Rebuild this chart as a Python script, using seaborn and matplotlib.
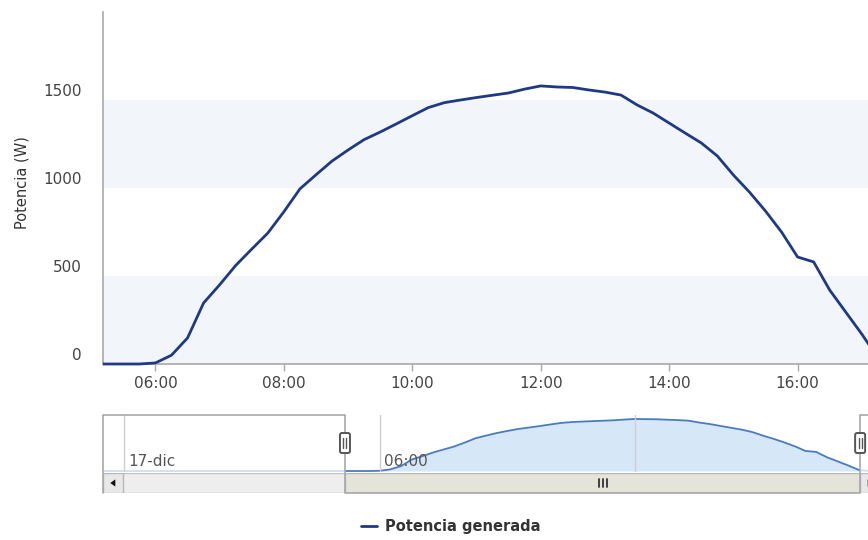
import pandas as pd
import matplotlib
matplotlib.use("Agg")
import matplotlib.pyplot as plt
import matplotlib.dates as mdates
import matplotlib.transforms as mtransforms
from matplotlib.patches import Rectangle, FancyBboxPatch, Polygon
from matplotlib.lines import Line2D
import seaborn as sns

# ---------------------------------------------------------------------------
# Datos: potencia generada el 17-dic, muestras cada 15 minutos
# ---------------------------------------------------------------------------
dia = "2013-12-17"
horas = [
    "05:15", "05:30", "05:45", "06:00", "06:15", "06:30", "06:45",
    "07:00", "07:15", "07:30", "07:45", "08:00", "08:15", "08:30", "08:45",
    "09:00", "09:15", "09:30", "09:45", "10:00", "10:15", "10:30", "10:45",
    "11:00", "11:15", "11:30", "11:45", "12:00", "12:15", "12:30", "12:45",
    "13:00", "13:15", "13:30", "13:45", "14:00", "14:15", "14:30", "14:45",
    "15:00", "15:15", "15:30", "15:45", "16:00", "16:15", "16:30", "16:45",
    "17:00", "17:15", "17:30", "17:45",
]
potencia = [
    0, 0, 0, 6, 50, 148, 347,
    450, 560, 653, 744, 865, 995, 1075, 1153,
    1216, 1275, 1318, 1364, 1411, 1457, 1485, 1500,
    1514, 1527, 1540, 1562, 1580, 1574, 1571, 1557,
    1545, 1528, 1472, 1426, 1369, 1312, 1256, 1182,
    1074, 977, 869, 750, 608, 580, 420, 295,
    170, 35, 0, 0,
]
# Registro nocturno anterior (sin generación)
hora_noche = "2013-12-16 23:30"
potencia_noche = 0

# Ejes y rango visible
yticks = [0, 500, 1000, 1500]
bandas = [(0, 500), (1000, 1500)]
vista_ini = pd.Timestamp(f"{dia} 05:11")
vista_fin = pd.Timestamp(f"{dia} 17:17")
marcas_nav = [f"{dia} 00:00", f"{dia} 06:00", f"{dia} 12:00"]
etiquetas_nav = ["17-dic", "06:00"]
serie = "Potencia generada"

df = pd.DataFrame({
    "hora": pd.to_datetime([hora_noche] + [f"{dia} {h}" for h in horas]),
    "potencia": [potencia_noche] + potencia,
})

# ---------------------------------------------------------------------------
# Estilo
# ---------------------------------------------------------------------------
sns.set_theme(style="white")
plt.rcParams["font.family"] = ["DejaVu Sans"]

AZUL = "#1f3a82"
AZUL_NAV = "#4a7cbd"
RELLENO_NAV = "#d6e7f8"
BANDA = "#f2f6fb"
GRIS_EJE = "#a9a9a9"
TEXTO = "#444444"

W, H = 868, 540
fig = plt.figure(figsize=(W / 100, H / 100), dpi=100)


def caja(x0, y0, x1, y1):
    """Rectángulo en píxeles (origen arriba-izquierda) -> fracción de figura."""
    return [x0 / W, 1 - y1 / H, (x1 - x0) / W, (y1 - y0) / H]


ax = fig.add_axes(caja(103, 12, 880, 364))
ax_nav = fig.add_axes(caja(103, 415, 880, 472))
ax_scr = fig.add_axes(caja(103, 473, 880, 493))

# ---------------------------------------------------------------------------
# Gráfico principal
# ---------------------------------------------------------------------------
for y0, y1 in bandas:
    ax.axhspan(y0, y1, color=BANDA, zorder=0, lw=0)

sns.lineplot(data=df, x="hora", y="potencia", ax=ax, color=AZUL,
             linewidth=2.0, label=serie, zorder=3)
linea = ax.lines[-1]
linea.set_clip_box(mtransforms.TransformedBbox(
    mtransforms.Bbox([[0, -0.03], [1, 1]]), ax.transAxes))

ax.set_xlim(vista_ini, vista_fin)
ax.set_ylim(0, 2000)
ax.set_xlabel("")
ax.set_ylabel("")

ax.xaxis.set_major_locator(mdates.HourLocator(byhour=range(0, 24, 2)))
ax.xaxis.set_major_formatter(mdates.DateFormatter("%H:%M"))
ax.tick_params(axis="x", length=5, width=1, color=GRIS_EJE, labelsize=11,
               labelcolor=TEXTO, pad=4, bottom=True)
ax.set_yticks([])

for lado in ("top", "right"):
    ax.spines[lado].set_visible(False)
for lado in ("left", "bottom"):
    ax.spines[lado].set_color(GRIS_EJE)
    ax.spines[lado].set_linewidth(1.2)

# Etiquetas del eje Y, ligeramente por encima de su valor
trans_y = mtransforms.blended_transform_factory(ax.transAxes, ax.transData) + \
    mtransforms.ScaledTranslation(-0.21, 0.09, fig.dpi_scale_trans)
for v in yticks:
    ax.text(0, v, f"{v}", transform=trans_y, ha="right", va="center",
            fontsize=11, color=TEXTO)

fig.text(22 / W, 1 - 183 / H, "Potencia (W)", rotation=90, ha="center",
         va="center", fontsize=10.5, color="#333333")

# Leyenda
handles, labels = ax.get_legend_handles_labels()
ax.get_legend().remove()
leg = fig.legend(handles, labels, loc="center",
                 bbox_to_anchor=(451 / W, 1 - 527 / H), frameon=False,
                 prop=dict(weight="bold", size=10.5), handlelength=1.05,
                 handletextpad=0.6)
for t in leg.get_texts():
    t.set_color("#333333")

# ---------------------------------------------------------------------------
# Navegador
# ---------------------------------------------------------------------------
ax_nav.fill_between(df["hora"], df["potencia"], 0, color=RELLENO_NAV,
                    lw=0, zorder=2)
sns.lineplot(data=df, x="hora", y="potencia", ax=ax_nav, color=AZUL_NAV,
             linewidth=1.3, legend=False, zorder=4)
ax_nav.set_xlim(df["hora"].min(), df["hora"].max())
ax_nav.set_ylim(-30, 1700)
ax_nav.set_axis_off()

trans_nav = mtransforms.blended_transform_factory(ax_nav.transData,
                                                  ax_nav.transAxes)
for m in marcas_nav:
    ax_nav.axvline(pd.Timestamp(m), color="#cfcfcf", lw=1, zorder=6)
off_lbl = mtransforms.ScaledTranslation(0.045, 0, fig.dpi_scale_trans)
for m, etq in zip(marcas_nav, etiquetas_nav):
    ax_nav.text(pd.Timestamp(m), 0.19, etq, transform=trans_nav + off_lbl,
                ha="left", va="center", fontsize=11, color="#555555",
                zorder=6)

# Zonas fuera de la selección, atenuadas
x_min, x_max = ax_nav.get_xlim()
x_ini, x_fin = mdates.date2num(vista_ini), mdates.date2num(vista_fin)
for a, b in ((x_min, x_ini), (x_fin, x_max)):
    ax_nav.add_patch(Rectangle((a, 0), b - a, 1, transform=trans_nav,
                               fc="white", alpha=0.75, lw=0, zorder=5))

# ---------------------------------------------------------------------------
# Barra de desplazamiento
# ---------------------------------------------------------------------------
ax_scr.set_xlim(x_min, x_max)
ax_scr.set_ylim(0, 1)
ax_scr.set_axis_off()
trans_scr = mtransforms.blended_transform_factory(ax_scr.transData,
                                                  ax_scr.transAxes)
ax_scr.add_patch(Rectangle((0, 0), 1, 1, transform=ax_scr.transAxes,
                           fc="#eeeeee", ec="#c4c4c4", lw=1, zorder=1))
ax_scr.add_patch(Rectangle((x_ini, 0), x_fin - x_ini, 1, transform=trans_scr,
                           fc="#e4e4d9", ec="#b8b8b8", lw=1, zorder=2))
x_mid = (x_ini + x_fin) / 2
for dx in (-4, 0, 4):
    tr = trans_scr + mtransforms.ScaledTranslation(dx / 100, 0,
                                                   fig.dpi_scale_trans)
    ax_scr.add_line(Line2D([x_mid, x_mid], [0.3, 0.7], transform=tr,
                           color="#333333", lw=1.3, zorder=3))

ancho_btn = 20 / 777
for x0, punta in ((0, -1), (1 - ancho_btn, 1)):
    ax_scr.add_patch(Rectangle((x0, 0), ancho_btn, 1,
                               transform=ax_scr.transAxes, fc="#e8e8e8",
                               ec="#b8b8b8", lw=1, zorder=4))
    cx = x0 + ancho_btn / 2
    tri = Polygon([[cx + punta * 0.0035, 0.5], [cx - punta * 0.003, 0.68],
                   [cx - punta * 0.003, 0.32]], closed=True,
                  transform=ax_scr.transAxes, fc="#111111", lw=0, zorder=5)
    ax_scr.add_patch(tri)

# Contorno del navegador alrededor de la selección
y_top = 1 - 415 / H
y_bot = 1 - 493 / H
trans_borde = mtransforms.blended_transform_factory(ax_nav.transData,
                                                    fig.transFigure)
fig.add_artist(Line2D(
    [x_min, x_min, x_ini, x_ini, x_fin, x_fin, x_max],
    [y_bot, y_top, y_top, y_bot, y_bot, y_top, y_top],
    transform=trans_borde, color="#a8a8a8", lw=1.2, zorder=10))

# Tiradores de la selección
fig.canvas.draw()
for xd in (x_ini, x_fin):
    px = ax_nav.transData.transform((xd, 0))[0]
    yc = H - 443
    fig.add_artist(FancyBboxPatch(
        (px - 5, yc - 10), 10, 20,
        boxstyle="round,pad=0,rounding_size=2",
        transform=mtransforms.IdentityTransform(),
        fc="white", ec="#555555", lw=1.4, zorder=11))
    for dx in (-1.5, 1.5):
        fig.add_artist(Line2D([px + dx, px + dx], [yc - 5, yc + 5],
                              transform=mtransforms.IdentityTransform(),
                              color="#555555", lw=1, zorder=12))

fig.savefig("out.png", dpi=100)
